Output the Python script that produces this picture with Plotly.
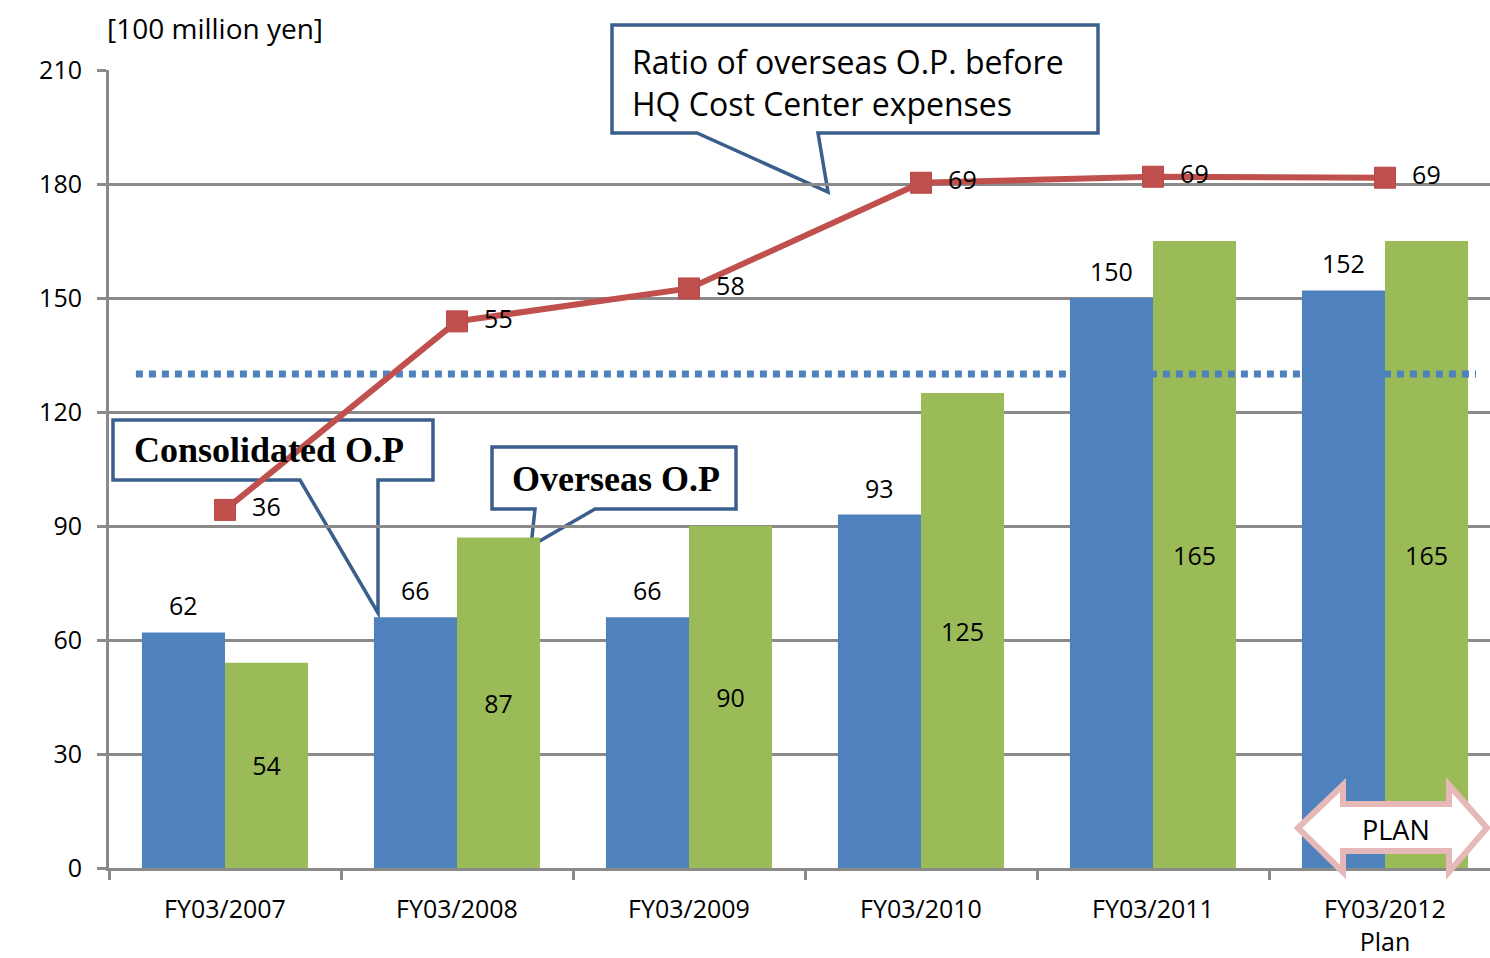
import plotly.graph_objects as go

# ---- data -------------------------------------------------------------
categories = ["FY03/2007", "FY03/2008", "FY03/2009", "FY03/2010", "FY03/2011", "FY03/2012<br>Plan"]
consolidated_op = [62, 66, 66, 93, 150, 152]      # 100 million yen
overseas_op = [54, 87, 90, 125, 165, 165]         # 100 million yen
overseas_ratio = [35.9, 54.8, 58.1, 68.7, 69.3, 69.2]  # %, before HQ cost center expenses
reference_level = 130

# ---- styling ----------------------------------------------------------
BLUE = "#4F81BD"
GREEN = "#9BBB59"
RED = "#C0504D"
GRID = "#8A8A8A"
CALLOUT = "#3A5F8C"
PINK = "#E6B9B8"
FONT = "Open Sans"
LABEL_SIZE = 25

W, H = 1490, 958
ML, MR, MT, MB = 109, 0, 70, 90
PW, PH = W - ML - MR, H - MT - MB
CAT_PX = 232                      # width of one category slot in pixels
BARGAP = 0.284
BAR_PX = CAT_PX * (1 - BARGAP) / 2


def fx(x):
    """page pixel -> paper x"""
    return (x - ML) / PW


def fy(y):
    """page pixel -> paper y"""
    return (H - MB - y) / PH


def path(points):
    pts = [f"{fx(x):.5f},{fy(y):.5f}" for x, y in points]
    return "M" + " L".join(pts) + " Z"


idx = list(range(len(categories)))
n = len(categories)

fig = go.Figure()

fig.add_trace(go.Bar(
    x=idx, y=consolidated_op, name="Consolidated O.P",
    marker=dict(color=BLUE, line=dict(width=0)),
))
fig.add_trace(go.Bar(
    x=idx, y=overseas_op, name="Overseas O.P",
    marker=dict(color=GREEN, line=dict(width=0)),
    text=overseas_op, textposition="inside", insidetextanchor="middle",
    textfont=dict(family=FONT, size=LABEL_SIZE, color="black"),
))

# dotted reference level across the plot
fig.add_trace(go.Scatter(
    x=[-0.384, 5.392], y=[reference_level, reference_level],
    mode="lines", line=dict(color=BLUE, width=7, dash="7px,6px"),
    hoverinfo="skip", showlegend=False,
))

# overseas ratio line on its own (hidden) scale
fig.add_trace(go.Scatter(
    x=idx, y=overseas_ratio, yaxis="y2", name="Overseas ratio",
    mode="lines+markers+text",
    line=dict(color=RED, width=6),
    marker=dict(symbol="square", size=21, color=RED, line=dict(color="#B94A47", width=1)),
    texttemplate="&nbsp;&nbsp;%{y:.0f}", textposition="middle right",
    textfont=dict(family=FONT, size=LABEL_SIZE, color="black"),
    cliponaxis=False,
))

fig.update_layout(
    width=W, height=H,
    margin=dict(l=ML, r=MR, t=MT, b=MB),
    paper_bgcolor="white", plot_bgcolor="white",
    showlegend=False,
    barmode="group", bargap=BARGAP, bargroupgap=0,
    font=dict(family=FONT, size=LABEL_SIZE, color="black"),
    xaxis=dict(
        range=[-0.5, n - 0.5 - (CAT_PX * n - PW) / CAT_PX],
        tickmode="array", tickvals=idx, ticktext=categories,
        ticks="", showgrid=False, zeroline=False, automargin=False,
        showline=True, linecolor=GRID, linewidth=3,
        ticklabelstandoff=17,
        tickfont=dict(family=FONT, size=LABEL_SIZE, color="black"),
        minor=dict(tickvals=[i - 0.5 for i in range(n + 1)], ticks="outside",
                   ticklen=9, tickwidth=3, tickcolor=GRID, showgrid=False),
    ),
    yaxis=dict(
        range=[0, 210], tickmode="linear", tick0=0, dtick=30,
        showgrid=True, gridcolor=GRID, gridwidth=3, automargin=False,
        zeroline=False, showline=True, linecolor=GRID, linewidth=3,
        ticks="outside", ticklen=9, tickwidth=3, tickcolor=GRID,
        ticklabelstandoff=10,
        tickfont=dict(family=FONT, size=LABEL_SIZE, color="black"),
    ),
    yaxis2=dict(
        range=[0, 80], overlaying="y", side="right", visible=False,
        showgrid=False, zeroline=False, automargin=False,
    ),
)

shapes = [
    # ratio callout
    dict(type="path", xref="paper", yref="paper", layer="between",
         path=path([(612, 25), (1098, 25), (1098, 133), (818, 133), (828, 192), (697, 133), (612, 133)]),
         fillcolor="white", line=dict(color=CALLOUT, width=3.5)),
    # consolidated callout (no fill)
    dict(type="path", xref="paper", yref="paper", layer="between",
         path=path([(113, 420), (433, 420), (433, 480), (378, 480), (378, 613), (300, 480), (113, 480)]),
         fillcolor="rgba(0,0,0,0)", line=dict(color=CALLOUT, width=3.5)),
    # overseas callout
    dict(type="path", xref="paper", yref="paper", layer="between",
         path=path([(492, 447), (736, 447), (736, 509), (595, 509), (531, 546), (535, 509), (492, 509)]),
         fillcolor="white", line=dict(color=CALLOUT, width=3.5)),
    # PLAN double arrow
    dict(type="path", xref="paper", yref="paper", layer="above",
         path=path([(1298, 828), (1343, 785), (1343, 804), (1449, 804), (1449, 785), (1487, 828),
                    (1449, 872), (1449, 851), (1343, 851), (1343, 872)]),
         fillcolor="white", line=dict(color=PINK, width=6)),
]
fig.update_layout(shapes=shapes)

# value labels above the consolidated bars
annotations = [
    dict(text=str(v), x=i, y=v, xref="x", yref="y", xshift=-BAR_PX / 2, yshift=27,
         xanchor="center", yanchor="middle", showarrow=False,
         font=dict(family=FONT, size=LABEL_SIZE, color="black"))
    for i, v in zip(idx, consolidated_op)
]

texts = [
    dict(text="[100 million yen]", x=fx(105), y=fy(28), xanchor="left", yanchor="middle",
         font=dict(family=FONT, size=28, color="black")),
    dict(text="Ratio of overseas O.P. before<br>HQ Cost Center expenses", x=fx(630), y=fy(82),
         xanchor="left", yanchor="middle", align="left",
         font=dict(family=FONT, size=32, color="black")),
    dict(text="<b>Consolidated O.P</b>", x=fx(269), y=fy(450), xanchor="center", yanchor="middle",
         font=dict(family="Liberation Serif", size=36, color="black")),
    dict(text="<b>Overseas O.P</b>", x=fx(616), y=fy(479), xanchor="center", yanchor="middle",
         font=dict(family="Liberation Serif", size=36, color="black")),
    dict(text="PLAN", x=fx(1396), y=fy(829), xanchor="center", yanchor="middle",
         font=dict(family=FONT, size=27, color="black")),
]
for a in texts:
    a.update(xref="paper", yref="paper", showarrow=False)
fig.update_layout(annotations=annotations + texts)

fig.write_html("out.html")
